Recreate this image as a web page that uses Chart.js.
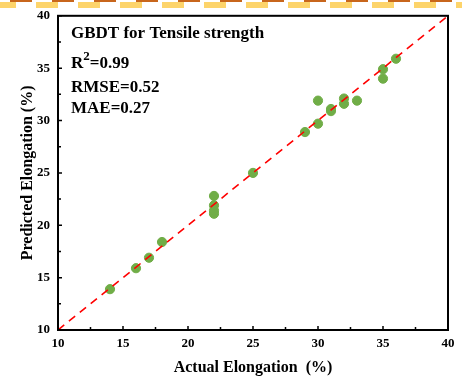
<!DOCTYPE html>
<html>
<head>
<meta charset="utf-8">
<script src="https://cdn.jsdelivr.net/npm/chart.js@4"></script>
<style>
  html, body { margin: 0; padding: 0; background: #fff; }
  #wrap { position: relative; width: 462px; height: 381px; }
  .stripe { position: absolute; left: 0; width: 462px; }
  #s1 { top: 0; height: 2px;
        background: repeating-linear-gradient(90deg, transparent 0 10px, #c8661c 10px 32px, transparent 32px 42px); }
  #s2 { top: 2px; height: 6px;
        background: repeating-linear-gradient(90deg, #fdd46b 0 16px, transparent 16px 36px, #fdd46b 36px 42px); }
  canvas { position: absolute; left: 0; top: 0; }
</style>
</head>
<body>
<div id="wrap">
  <div class="stripe" id="s1"></div>
  <div class="stripe" id="s2"></div>
  <canvas id="gbdtChart" width="462" height="381"></canvas>
</div>
<script>
const actual    = [14, 16, 17, 18, 22, 22, 22, 22, 25, 29, 30, 30, 31, 31, 32, 32, 33, 35, 35, 36];
const predicted = [13.9, 15.9, 16.9, 18.4, 21.1, 21.4, 21.9, 22.8, 25.0, 28.9, 29.7, 31.9, 30.9, 31.1, 31.6, 32.1, 31.9, 34.0, 34.9, 35.9];
const idealLine = [10, 40];
const axisMin = 10, axisMax = 40, axisStep = 5;
const titleText = 'GBDT for Tensile strength';
const r2Text = '0.99', rmseText = '0.52', maeText = '0.27';

const points = actual.map((a, i) => ({ x: a, y: predicted[i] }));
const diag = idealLine.map(v => ({ x: v, y: v }));

const serif = "'Liberation Serif', 'Times New Roman', serif";

// frame, inward ticks and the stats text
const framePlugin = {
  id: 'frame',
  afterDraw(chart) {
    const ctx = chart.ctx;
    const a = chart.chartArea;
    const xs = chart.scales.x, ys = chart.scales.y;
    ctx.save();
    ctx.strokeStyle = '#000';
    ctx.lineWidth = 1.5;
    for (let v = axisMin; v <= axisMax; v += axisStep / 2) {
      const major = v % axisStep === 0;
      const len = major ? 4 : 3;
      const px = xs.getPixelForValue(v);
      const py = ys.getPixelForValue(v);
      ctx.beginPath();
      ctx.moveTo(px, a.bottom);
      ctx.lineTo(px, a.bottom - len);
      ctx.moveTo(a.left, py);
      ctx.lineTo(a.left + len, py);
      ctx.stroke();
    }
    ctx.lineWidth = 2;
    ctx.strokeRect(a.left, a.top, a.right - a.left, a.bottom - a.top);

    ctx.fillStyle = '#000';
    ctx.textBaseline = 'alphabetic';
    ctx.textAlign = 'left';
    ctx.font = 'bold 17px ' + serif;
    const tx = a.left + 13;
    ctx.fillText(titleText, tx, 38);
    ctx.fillText('R', tx, 68);
    let w = ctx.measureText('R').width;
    ctx.font = 'bold 13px ' + serif;
    ctx.fillText('2', tx + w, 60);
    w += ctx.measureText('2').width;
    ctx.font = 'bold 17px ' + serif;
    ctx.fillText('=' + r2Text, tx + w, 68);
    ctx.fillText('RMSE=' + rmseText, tx, 92);
    ctx.fillText('MAE=' + maeText, tx, 113);
    ctx.restore();
  }
};

const ctx = document.getElementById('gbdtChart').getContext('2d');

new Chart(ctx, {
  type: 'scatter',
  data: {
    datasets: [
      {
        type: 'line',
        data: diag,
        borderColor: '#ff0000',
        borderWidth: 1.6,
        borderDash: [8, 6],
        pointRadius: 0,
        fill: false,
        order: 0
      },
      {
        data: points,
        backgroundColor: '#70ad47',
        borderColor: '#70ad47',
        pointRadius: 4.6,
        pointHoverRadius: 4.6,
        order: 1
      }
    ]
  },
  options: {
    responsive: false,
    animation: false,
    events: [],
    layout: { padding: { left: 0, top: 13, right: 14, bottom: 0 } },
    plugins: { legend: { display: false }, tooltip: { enabled: false } },
    scales: {
      x: {
        type: 'linear',
        min: axisMin, max: axisMax,
        grid: { display: false, drawTicks: false },
        border: { display: false },
        ticks: { stepSize: axisStep, padding: 6, color: '#000',
                 font: { family: serif, size: 13, weight: 'bold' } },
        title: { display: true, text: 'Actual Elongation  (%)', color: '#000',
                 font: { family: serif, size: 16, weight: 'bold' },
                 padding: { top: 0, bottom: 4 } },
        afterFit(s) { s.height = 51; }
      },
      y: {
        type: 'linear',
        min: axisMin, max: axisMax,
        grid: { display: false, drawTicks: false },
        border: { display: false },
        ticks: { stepSize: axisStep, padding: 8, color: '#000',
                 font: { family: serif, size: 13, weight: 'bold' } },
        title: { display: true, text: 'Predicted Elongation (%)', color: '#000',
                 font: { family: serif, size: 16, weight: 'bold' },
                 padding: { top: 18, bottom: 0 } },
        afterFit(s) { s.width = 58; }
      }
    }
  },
  plugins: [framePlugin]
});
</script>
</body>
</html>
